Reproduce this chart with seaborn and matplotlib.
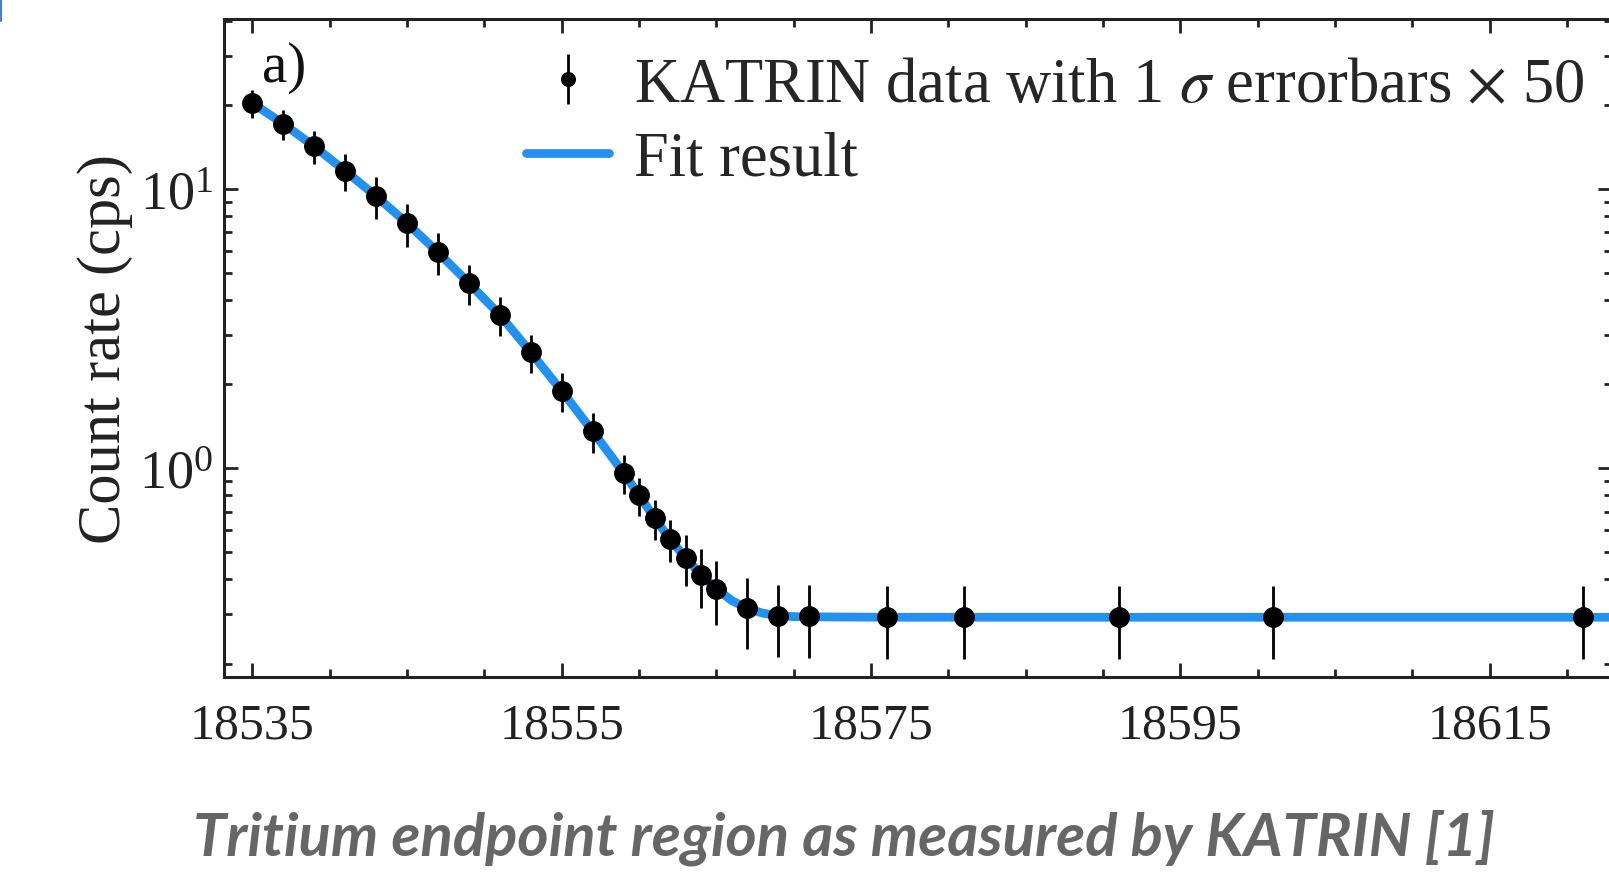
import numpy as np
import pandas as pd
import matplotlib
matplotlib.use('Agg')
import matplotlib.pyplot as plt
import seaborn as sns
from matplotlib.ticker import FixedLocator, MultipleLocator, LogLocator, NullFormatter
from matplotlib.legend_handler import HandlerErrorbar
from matplotlib.lines import Line2D

# retarding energy (eV) and count rate (cps)
energy = [18535, 18537, 18539, 18541, 18543, 18545, 18547, 18549, 18551, 18553,
          18555, 18557, 18559, 18560, 18561, 18562, 18563, 18564, 18565, 18567,
          18569, 18571, 18576, 18581, 18591, 18601, 18621]
rate = [20.3, 17.1, 14.2, 11.6, 9.42, 7.54, 5.93, 4.60, 3.54, 2.60,
        1.89, 1.357, 0.962, 0.802, 0.662, 0.558, 0.478, 0.416, 0.370, 0.315,
        0.297, 0.295, 0.293, 0.293, 0.293, 0.293, 0.294]
# 1 sigma errors, already multiplied by 50
rate_err = [2.3, 2.15, 1.92, 1.78, 1.58, 1.33, 1.02, 0.75, 0.57, 0.40,
            0.30, 0.225, 0.15, 0.125, 0.11, 0.095, 0.10, 0.10, 0.096, 0.09,
            0.086, 0.086, 0.086, 0.086, 0.086, 0.086, 0.086]

# fit curve
fit_energy = [18535, 18537, 18539, 18541, 18543, 18545, 18547, 18549, 18551, 18553,
              18555, 18557, 18559, 18560, 18561, 18562, 18563, 18564, 18565, 18566,
              18567, 18568, 18569, 18570, 18571, 18576, 18581, 18591, 18601, 18621, 18625]
fit_rate = [20.3, 17.1, 14.2, 11.6, 9.42, 7.54, 5.93, 4.60, 3.54, 2.60,
            1.89, 1.357, 0.962, 0.802, 0.662, 0.558, 0.478, 0.416, 0.370, 0.336,
            0.315, 0.303, 0.297, 0.2945, 0.294, 0.293, 0.293, 0.293, 0.293, 0.293, 0.293]

xticks = [18535, 18555, 18575, 18595, 18615]
xticklabels = ['18535', '18555', '18575', '18595', '18615']

data_label = r'KATRIN data with 1 $\sigma$ errorbars $\times$ 50'
fit_label = 'Fit result'
caption = 'Tritium endpoint region as measured by KATRIN [1]'
fit_color = '#2391f0'
serif = ['Liberation Serif', 'DejaVu Serif']

sns.set_theme(style='ticks')
plt.rcParams['font.family'] = serif
plt.rcParams['font.serif'] = serif
plt.rcParams['mathtext.fontset'] = 'stix'

fig = plt.figure(figsize=(16.09, 8.79), dpi=100)
ax = fig.add_axes([224 / 1609, 201.3 / 879, 1388 / 1609, 657.7 / 879])

df_fit = pd.DataFrame({'energy': fit_energy, 'rate': fit_rate})
sns.lineplot(data=df_fit, x='energy', y='rate', ax=ax, color=fit_color,
             linewidth=6.3, legend=False, zorder=2)
fit_line = ax.lines[0]
ax.set_yscale('log')

data = ax.errorbar(energy, rate, yerr=rate_err, fmt='o', color='black', ms=14,
                   elinewidth=2, capsize=0, zorder=3)

ax.set_xlim(18533.16, 18622.9)
ax.set_ylim(0.1795, 40.6)
ax.set_xlabel('')
ax.set_ylabel('Count rate (cps)', fontsize=43.6, labelpad=4, color='#222222',
              fontfamily=serif)

ax.xaxis.set_major_locator(FixedLocator(xticks))
ax.set_xticklabels(xticklabels, fontfamily=serif)
ax.xaxis.set_minor_locator(MultipleLocator(5))
ax.yaxis.set_major_locator(LogLocator(base=10))
ax.yaxis.set_minor_locator(LogLocator(base=10, subs=np.arange(2, 10)))
ax.yaxis.set_minor_formatter(NullFormatter())

ax.tick_params(which='both', direction='in', top=True, right=True, width=2,
               color='#222222', labelcolor='#222222')
ax.tick_params(which='major', length=10)
ax.tick_params(which='minor', length=5.5)
ax.tick_params(axis='x', labelsize=36, pad=18)
ax.tick_params(axis='y', labelsize=39, pad=8)
for lab in ax.get_yticklabels():
    lab.set_fontfamily(serif)
for s in ax.spines.values():
    s.set_linewidth(2.2)
    s.set_color('#222222')

ax.text(0.0272, 0.9057, 'a)', transform=ax.transAxes, fontsize=41,
        va='baseline', color='#111111')

ax.legend([data, fit_line], [data_label, fit_label], loc='upper right',
          bbox_to_anchor=(0.9805, 0.942), frameon=False, fontsize=45,
          handlelength=1.33, handletextpad=0.4, labelspacing=0.25,
          borderaxespad=0, borderpad=0, markerscale=0.7,
          handler_map={type(data): HandlerErrorbar(yerr_size=0.4)})

fig.text(844 / 1609, 1 - 838 / 879, caption, ha='center', va='center',
         fontfamily='Lato', fontweight='bold', fontstyle='italic',
         fontsize=43, color='#666666')

fig.add_artist(Line2D([1 / 1609, 1 / 1609], [1, 1 - 22 / 879],
                      color='#4a7cc7', lw=1.5))

fig.savefig('out.png', dpi=100)
